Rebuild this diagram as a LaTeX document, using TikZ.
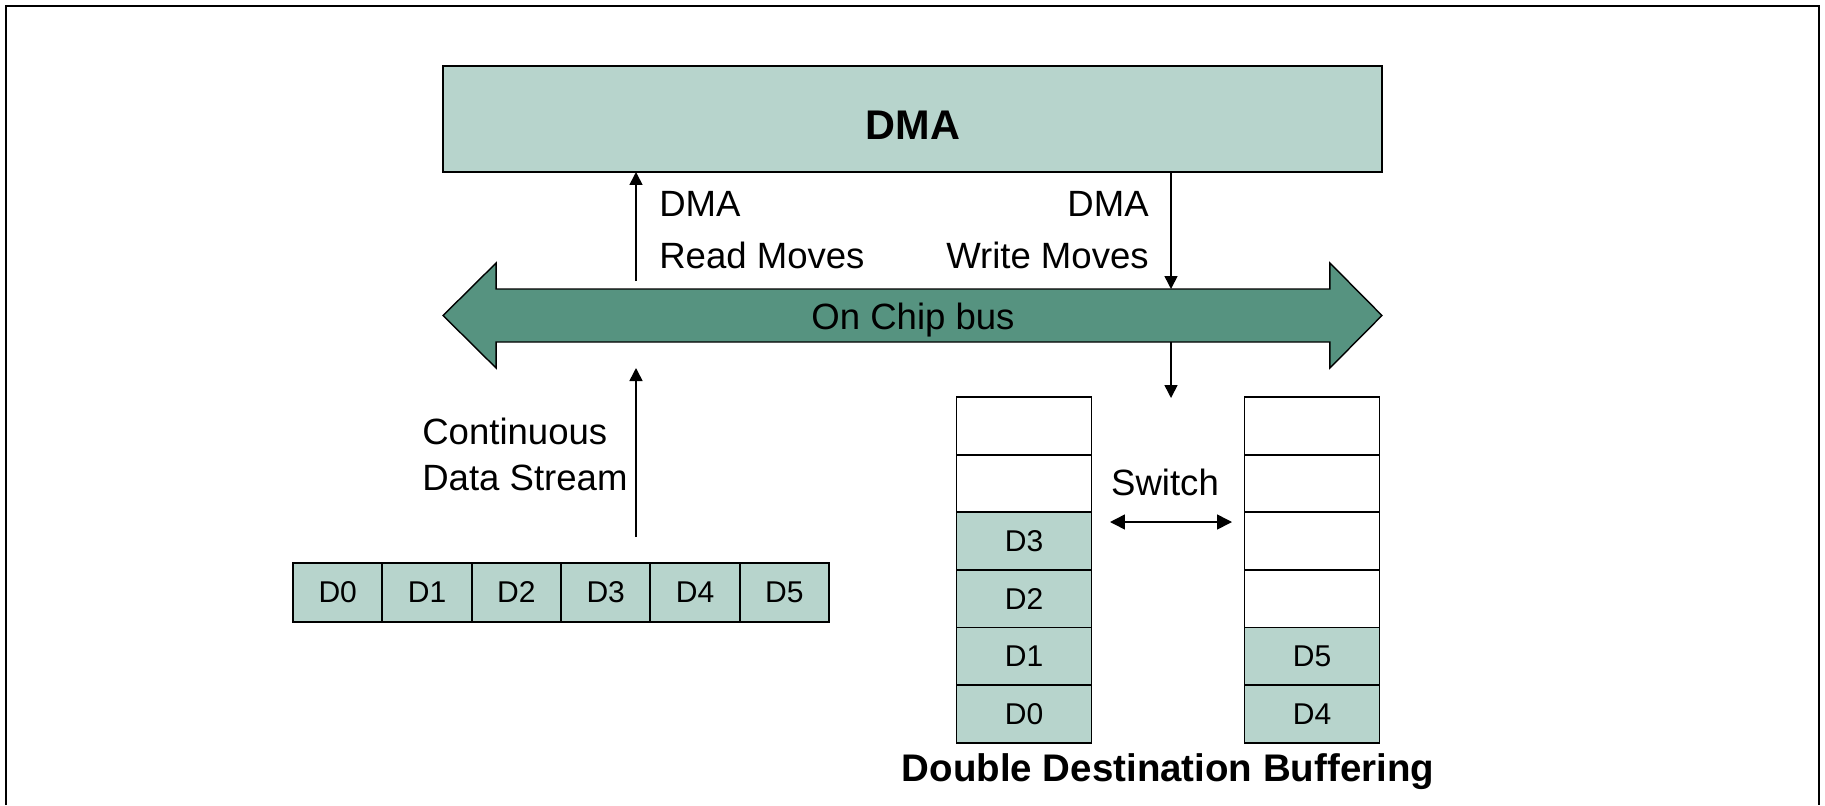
\documentclass[tikz,border=0pt]{standalone}
\usepackage{fontspec}
\setmainfont{Liberation Sans}
\usetikzlibrary{arrows.meta,positioning}
\definecolor{dmafill}{HTML}{B7D4CC}
\definecolor{busfill}{HTML}{569380}

\begin{document}
\begin{tikzpicture}[
        x=0.02cm,y=-0.02cm,
        node distance=0pt,
        dmabox/.style={draw,line width=0.8pt,fill=dmafill,outer sep=0pt,
                    minimum width=18.78cm,minimum height=2.12cm,
                    font=\fontsize{23.6pt}{28pt}\selectfont\bfseries},
        busline/.style={draw,line width=0.8pt,fill=busfill},
        lbl/.style={inner sep=0pt,font=\fontsize{20.8pt}{25pt}\selectfont},
        cell/.style={draw,line width=1pt,fill=dmafill,outer sep=0pt,inner sep=0pt,
                    minimum width=1.787cm,minimum height=1.18cm,
                    font=\fontsize{17.1pt}{20pt}\selectfont},
        bufd/.style={draw,line width=1pt,fill=dmafill,outer sep=0pt,inner sep=0pt,
                    minimum width=2.7cm,minimum height=1.153cm,
                    font=\fontsize{17.1pt}{20pt}\selectfont},
        bufe/.style={bufd,fill=white},
        arr/.style={-{Triangle[length=7.4pt,width=7.4pt]},line width=0.9pt},
        frame/.style={line width=1.1pt}
      ]
        \useasboundingbox (0,0) rectangle (1825,805);
        \draw[frame] (6,805) -- (6,6) -- (1819,6) -- (1819,805);

        % DMA engine and the bus
        \node[dmabox] (dma) at (912.5,119) {};
        \node[lbl,font=\fontsize{23.6pt}{28pt}\selectfont\bfseries,anchor=base] (dmat) at (913,139) {DMA};
        \node[inner sep=0pt,outer sep=0pt,minimum width=16.68cm,minimum height=1.06cm] (bus) at (913,315.5) {};
        \draw[busline] (bus.north west) -- ++(0,-26) -- ++(-53,52.5) -- ++(53,52.5) -- (bus.south west)
          -- (bus.south east) -- ++(0,26) -- ++(52,-52.5) -- ++(-52,-52.5) -- (bus.north east) -- cycle;
        \node[lbl,anchor=base] (bust) at (913,329) {On Chip bus};

        % read / write moves
        \coordinate (rdlow) at (636,281);
        \draw[arr] (rdlow) -- (rdlow |- dma.south);
        \node[lbl,anchor=base west] (rd1) at (659,216) {DMA};
        \node[lbl,anchor=base west] (rd2) at (659,268) {Read Moves};
        \coordinate (wrx) at (1171,0);
        \draw[arr] (wrx |- dma.south) -- (wrx |- bus.north);
        \node[lbl,anchor=base east] (wr1) at (1149,216) {DMA};
        \node[lbl,anchor=base east] (wr2) at (1149,268) {Write Moves};

        % source stream
        \node[cell] (d0) at (337.7,592.5) {D0};
        \node[cell,right=of d0] (d1) {D1};
        \node[cell,right=of d1] (d2) {D2};
        \node[cell,right=of d2] (d3) {D3};
        \node[cell,right=of d3] (d4) {D4};
        \node[cell,right=of d4] (d5) {D5};
        \coordinate (stlow) at (636,537);
        \draw[arr] (stlow) -- (636,368);
        \node[lbl,anchor=base west] (st1) at (422,444) {Continuous};
        \node[lbl,anchor=base west] (st2) at (422,490) {Data Stream};

        % destination buffers
        \node[bufe] (a1) at (1024,425.8) {};
        \node[bufe,below=of a1] (a2) {};
        \node[bufd,below=of a2] (a3) {D3};
        \node[bufd,below=of a3] (a4) {D2};
        \node[bufd,below=of a4] (a5) {D1};
        \node[bufd,below=of a5] (a6) {D0};
        \node[bufe] (b1) at (1312,425.8) {};
        \node[bufe,below=of b1] (b2) {};
        \node[bufe,below=of b2] (b3) {};
        \node[bufe,below=of b3] (b4) {};
        \node[bufd,below=of b4] (b5) {D5};
        \node[bufd,below=of b5] (b6) {D4};
        \coordinate (bufin) at (1171,398);
        \draw[arr] (wrx |- bus.south) -- (bufin);

        \node[lbl,anchor=base] (sw) at (1165,495) {Switch};
        \coordinate (swl) at (1110,522);
        \coordinate (swr) at (1232,522);
        \draw[arr,{Triangle[length=8.5pt,width=8.5pt]}-{Triangle[length=8.5pt,width=8.5pt]}] (swl) -- (swr);

        \node[lbl,font=\fontsize{21.9pt}{26pt}\selectfont\bfseries,anchor=base] (ttl) at (1168,781) {Double Destination Buffering};
      \end{tikzpicture}
\end{document}
